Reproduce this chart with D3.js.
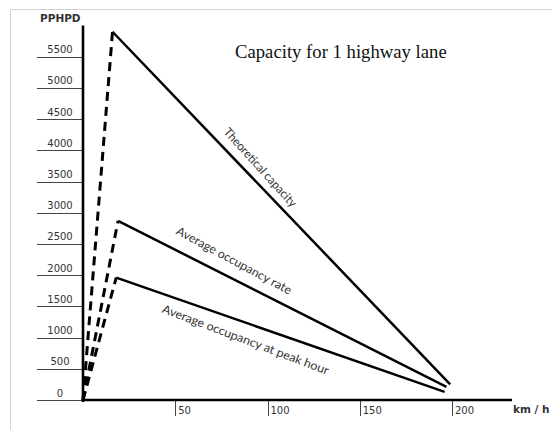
<!DOCTYPE html>
<html>
<head>
<meta charset="utf-8">
<script src="https://cdn.jsdelivr.net/npm/d3@7/dist/d3.min.js"></script>
<style>
  html, body { margin: 0; padding: 0; background: #fff; }
  svg { display: block; }
</style>
</head>
<body>
<svg id="chart" width="552" height="430"></svg>
<script>
// ---- data ----
const yTicks = [0, 500, 1000, 1500, 2000, 2500, 3000, 3500, 4000, 4500, 5000, 5500];
const xTicks = [50, 100, 150, 200];
const seriesNames = ["Theoretical capacity", "Average occupancy rate", "Average occupancy at peak hour"];
const peakSpeed = [16, 19, 18];
const peakFlow = [5900, 2870, 1960];
const endSpeed = [199, 197, 196];
const endFlow = [250, 210, 130];
const title = "Capacity for 1 highway lane";
const yTitle = "PPHPD";
const xTitle = "km / h";

// ---- layout ----
const svg = d3.select("#chart");
const x = d3.scaleLinear().domain([0, 200]).range([83, 452]);
const y = d3.scaleLinear().domain([0, 6000]).range([400, 25.5]);

// frame (light grey, top and left)
svg.append("line").attr("x1", 10.5).attr("x2", 552).attr("y1", 9.5).attr("y2", 9.5)
  .attr("stroke", "#d4d4d4").attr("stroke-width", 1);
svg.append("line").attr("x1", 10.5).attr("x2", 10.5).attr("y1", 9.5).attr("y2", 430)
  .attr("stroke", "#d4d4d4").attr("stroke-width", 1);

// y ticks
const yt = svg.append("g");
yTicks.forEach(v => {
  yt.append("line").attr("x1", 37).attr("x2", x(0)).attr("y1", Math.round(y(v)) + 0.5).attr("y2", Math.round(y(v)) + 0.5)
    .attr("stroke", "#444").attr("stroke-width", 1);
  yt.append("text").attr("x", 60).attr("y", y(v) - 3.5).attr("text-anchor", "middle")
    .attr("font-family", "DejaVu Sans").attr("font-size", 10).attr("fill", "#333").text(v);
});

// x ticks
const xt = svg.append("g");
xTicks.forEach(v => {
  xt.append("line").attr("x1", Math.round(x(v)) + 0.5).attr("x2", Math.round(x(v)) + 0.5).attr("y1", y(0)).attr("y2", 416)
    .attr("stroke", "#444").attr("stroke-width", 1);
  xt.append("text").attr("x", x(v) + 3).attr("y", 413.5)
    .attr("font-family", "DejaVu Sans").attr("font-size", 10).attr("fill", "#333").text(v);
});

// axes
svg.append("line").attr("x1", x(0)).attr("x2", x(0)).attr("y1", y(6000)).attr("y2", y(0) + 2)
  .attr("stroke", "#000").attr("stroke-width", 2.6);
svg.append("line").attr("x1", x(0) - 1).attr("x2", 512).attr("y1", y(0)).attr("y2", y(0))
  .attr("stroke", "#000").attr("stroke-width", 2.6);

// axis titles
svg.append("text").attr("x", 40).attr("y", 22).attr("font-family", "DejaVu Sans").attr("font-weight", "bold")
  .attr("font-size", 10.5).attr("fill", "#333").text(yTitle);
svg.append("text").attr("x", 513).attr("y", 413).attr("font-family", "DejaVu Sans").attr("font-weight", "bold")
  .attr("font-size", 10.5).attr("fill", "#333").text(xTitle);

// title
svg.append("text").attr("x", 235).attr("y", 58).attr("font-family", "Liberation Serif")
  .attr("font-size", 18.7).attr("fill", "#111").text(title);

// series
const line = d3.line().x(d => x(d[0])).y(d => y(d[1]));
const labelT = [0.41, 0.33, 0.41];
const labelOff = [13, 17, -16];
const labelLen = [102, 129, 177];
seriesNames.forEach((name, i) => {
  const p0 = [0, 0], p1 = [peakSpeed[i], peakFlow[i]], p2 = [endSpeed[i], endFlow[i]];
  svg.append("path").attr("d", line([p0, p1])).attr("fill", "none")
    .attr("stroke", "#000").attr("stroke-width", 3).attr("stroke-dasharray", "9,6");
  svg.append("path").attr("d", line([p1, p2])).attr("fill", "none")
    .attr("stroke", "#000").attr("stroke-width", 2.5).attr("stroke-linejoin", "miter");

  const ax = x(p1[0]), ay = y(p1[1]), bx = x(p2[0]), by = y(p2[1]);
  const dx = bx - ax, dy = by - ay, L = Math.hypot(dx, dy);
  const ux = dx / L, uy = dy / L;
  const nx = uy, ny = -ux; // normal pointing up-right
  const t = labelT[i];
  const cx = ax + dx * t + nx * labelOff[i];
  const cy = ay + dy * t + ny * labelOff[i];
  const ang = Math.atan2(dy, dx) * 180 / Math.PI + 1.5;
  svg.append("text")
    .attr("transform", `translate(${cx},${cy}) rotate(${ang})`)
    .attr("text-anchor", "middle").attr("dy", "0.35em")
    .attr("font-family", "Lato").attr("font-size", 12).attr("fill", "#333")
    .attr("textLength", labelLen[i]).attr("lengthAdjust", "spacingAndGlyphs")
    .text(name);
});
</script>
</body>
</html>
